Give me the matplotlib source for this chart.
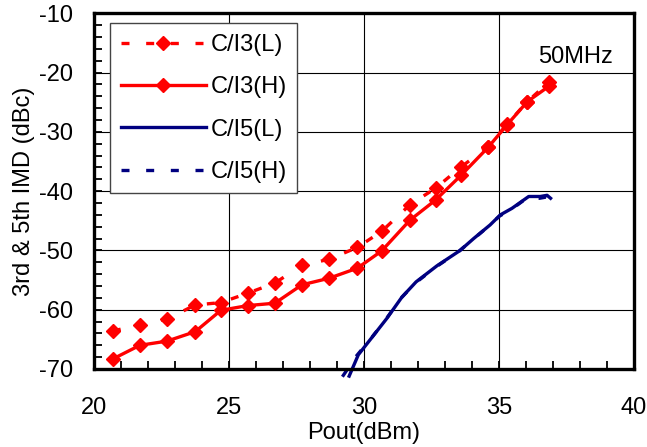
import matplotlib
matplotlib.use('Agg')
import matplotlib.pyplot as plt
from matplotlib.ticker import MultipleLocator

# Pout (dBm) for the 3rd order curves
pout = [20.7, 21.7, 22.7, 23.75, 24.7, 25.7, 26.7, 27.7, 28.7, 29.75,
        30.65, 31.7, 32.65, 33.6, 34.6, 35.3, 36.05, 36.85]
ci3_low = [-63.6, -62.5, -61.6, -59.2, -58.8, -57.2, -55.5, -52.5, -51.5, -49.5,
           -46.8, -42.3, -39.5, -35.9, -32.5, -28.7, -24.9, -21.6]
ci3_high = [-68.3, -66.0, -65.3, -63.7, -60.1, -59.3, -58.9, -55.8, -54.7, -53.0,
            -50.1, -44.9, -41.5, -37.3, -32.6, -28.8, -24.9, -22.3]

# 5th order curves (no markers, finer steps)
pout5_low = [29.45, 29.79, 30.29, 30.84, 31.40, 31.93, 32.70, 33.56, 34.06, 34.67,
             35.05, 35.48, 36.10, 36.53, 36.78, 36.91]
ci5_low = [-71.2, -67.6, -64.7, -61.5, -57.9, -55.3, -52.6, -50.0, -48.0, -45.7,
           -44.0, -42.9, -40.9, -40.9, -40.7, -41.2]
pout5_high = [29.2, 29.72, 30.25, 30.8, 31.36, 31.9, 32.66, 33.5, 34.02, 34.62,
              35.02, 35.45, 36.05, 36.5, 36.75, 36.9]
ci5_high = [-71.3, -67.8, -64.9, -61.7, -58.1, -55.5, -52.8, -50.2, -48.2, -45.9,
            -44.2, -43.1, -41.1, -41.2, -41.0, -41.3]

labels = ['C/I3(L)', 'C/I3(H)', 'C/I5(L)', 'C/I5(H)']

plt.rcParams['font.family'] = ['Liberation Sans', 'DejaVu Sans']
plt.rcParams['axes.unicode_minus'] = False

fig = plt.figure(figsize=(6.47, 4.47), dpi=100)
ax = fig.add_axes([94 / 647, 1 - 369 / 447, 540 / 647, 355.7 / 447])

red = '#ff0000'
navy = '#000080'
dash = (0, (2.4, 5.0))

ax.plot(pout, ci3_low, color=red, ls=dash, lw=2.4, marker='D', ms=7,
        label=labels[0])
ax.plot(pout, ci3_high, color=red, ls='-', lw=2.4, marker='D', ms=7,
        label=labels[1])
ax.plot(pout5_low, ci5_low, color=navy, ls='-', lw=2.4, label=labels[2],
        clip_on=False)
ax.plot(pout5_high, ci5_high, color=navy, ls=dash, lw=2.4, label=labels[3],
        clip_on=False)

ax.set_xlim(20, 40)
ax.set_ylim(-70, -10)
ax.xaxis.set_major_locator(MultipleLocator(5))
ax.xaxis.set_minor_locator(MultipleLocator(1))
ax.yaxis.set_major_locator(MultipleLocator(10))
ax.yaxis.set_minor_locator(MultipleLocator(2))

ax.grid(True, which='major', color='black', lw=0.8)
ax.set_axisbelow(True)
for s in ax.spines.values():
    s.set_linewidth(2.4)
    s.set_zorder(5)

ax.tick_params(which='both', direction='in', length=6, width=1.3, labelsize=17)
ax.tick_params(axis='y', pad=15)
ax.tick_params(axis='x', pad=20)

ax.set_xlabel('Pout(dBm)', fontsize=17, va='top')
ax.xaxis.set_label_coords(0.5, -0.148)
ax.set_ylabel('3rd & 5th IMD (dBc)', fontsize=17)
ax.yaxis.set_label_coords(-0.11, 0.5)

ax.text(37.85, -17.3, '50MHz', fontsize=17, ha='center', va='center')

lgd = ax.legend(loc='upper left', bbox_to_anchor=(16 / 540, 1 - 10 / 355.7),
                borderaxespad=0, numpoints=1, fontsize=17, handlelength=3.6,
                handletextpad=0.2, labelspacing=0.86, borderpad=0.45,
                fancybox=False, framealpha=1, edgecolor='#444444')
lgd.get_frame().set_linewidth(1.0)

fig.savefig('out.png', dpi=100)
